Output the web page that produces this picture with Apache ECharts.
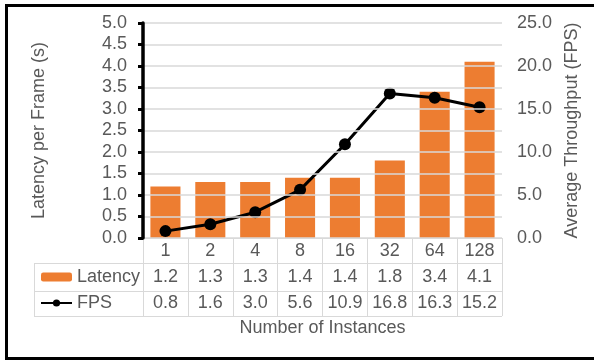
<!DOCTYPE html>
<html>
<head>
<meta charset="utf-8">
<script src="https://cdn.jsdelivr.net/npm/echarts@6/dist/echarts.min.js"></script>
<style>
  html, body { margin: 0; padding: 0; background: #fff; }
  #chart { width: 594px; height: 360px; }
</style>
</head>
<body>
<div id="chart"></div>
<script>
// Instance counts and the two measured series
const instances = ['1', '2', '4', '8', '16', '32', '64', '128'];
const latency = [1.2, 1.3, 1.3, 1.4, 1.4, 1.8, 3.4, 4.1];
const fps = [0.8, 1.6, 3.0, 5.6, 10.9, 16.8, 16.3, 15.2];

const FONT = "'Liberation Sans', Arial, sans-serif";
const TEXT = '#595959';
const RULE = '#d9d9d9';

// plot box
const G = { left: 143, right: 502, top: 23, bottom: 238 };
// data-table rows below the plot
const rowH = [25, 28, 25];
const rowY = [G.bottom + rowH[0], G.bottom + rowH[0] + rowH[1], G.bottom + rowH[0] + rowH[1] + rowH[2]];
const tableLeft = 34;

const fmt = v => Number(v).toFixed(1);

const chart = echarts.init(document.getElementById('chart'), null, { renderer: 'canvas' });

chart.setOption({
  animation: false,
  backgroundColor: '#fff',
  textStyle: { fontFamily: FONT },
  grid: { left: G.left, right: 594 - G.right, top: G.top, bottom: 360 - G.bottom },
  legend: {
    data: ['Latency', 'FPS'],
    orient: 'vertical',
    left: 40,
    top: 268,
    padding: 0,
    itemGap: 8,
    itemWidth: 31,
    itemHeight: 9,
    itemTextGap: 5,
    textStyle: { fontFamily: FONT, fontSize: 18, color: TEXT, lineHeight: 18 }
  },
  xAxis: [
    {
      type: 'category',
      data: instances,
      position: 'bottom',
      axisLine: { lineStyle: { color: RULE, width: 1 } },
      axisTick: { show: true, length: rowY[2] - G.bottom, lineStyle: { color: RULE, width: 1 } },
      axisLabel: { margin: 4, fontSize: 18, color: TEXT, fontFamily: FONT, interval: 0 }
    },
    {
      type: 'category',
      data: latency.map(fmt),
      position: 'bottom',
      axisLine: { show: false },
      axisTick: { show: false },
      axisLabel: { margin: 30, fontSize: 18, color: TEXT, fontFamily: FONT, interval: 0 }
    },
    {
      type: 'category',
      data: fps.map(fmt),
      position: 'bottom',
      axisLine: { show: false },
      axisTick: { show: false },
      axisLabel: { margin: 56, fontSize: 18, color: TEXT, fontFamily: FONT, interval: 0 },
      name: 'Number of Instances',
      nameLocation: 'middle',
      nameGap: 81,
      nameTextStyle: { fontSize: 18, color: TEXT, fontFamily: FONT }
    }
  ],
  yAxis: [
    {
      type: 'value',
      min: 0,
      max: 5,
      interval: 0.5,
      z: 10,
      name: 'Latency per Frame (s)',
      nameLocation: 'middle',
      nameGap: 95,
      nameTextStyle: { fontSize: 18, color: TEXT, fontFamily: FONT },
      axisLine: { show: true, onZero: false, lineStyle: { color: '#000', width: 3.5 } },
      axisTick: { show: true, length: 5, lineStyle: { color: '#000', width: 3 } },
      axisLabel: { formatter: fmt, fontSize: 18, color: TEXT, fontFamily: FONT, margin: 16 },
      splitLine: { show: true, lineStyle: { color: RULE, width: 1.5 } }
    },
    {
      type: 'value',
      min: 0,
      max: 25,
      interval: 5,
      position: 'right',
      name: 'Average Throughput (FPS)',
      nameLocation: 'middle',
      nameGap: 58,
      nameTextStyle: { fontSize: 18, color: TEXT, fontFamily: FONT },
      axisLine: { show: false },
      axisTick: { show: false },
      axisLabel: { formatter: fmt, fontSize: 18, color: TEXT, fontFamily: FONT, margin: 15 },
      splitLine: { show: false }
    }
  ],
  series: [
    {
      name: 'Latency',
      type: 'bar',
      data: latency,
      xAxisIndex: 0,
      yAxisIndex: 0,
      barCategoryGap: '33%',
      itemStyle: { color: '#ED7D31' }
    },
    {
      name: 'FPS',
      type: 'line',
      data: fps,
      xAxisIndex: 0,
      yAxisIndex: 1,
      symbol: 'circle',
      symbolSize: 12,
      lineStyle: { color: '#000', width: 3 },
      itemStyle: { color: '#000' },
      z: 5
    }
  ],
  graphic: [
    // table rules
    ...rowY.map(y => ({
      type: 'line',
      shape: { x1: tableLeft, y1: y + 0.5, x2: G.right, y2: y + 0.5 },
      style: { stroke: RULE, lineWidth: 1 },
      silent: true
    })),
    {
      type: 'line',
      shape: { x1: tableLeft + 0.5, y1: rowY[0], x2: tableLeft + 0.5, y2: rowY[2] },
      style: { stroke: RULE, lineWidth: 1 },
      silent: true
    },
    // outer frame
    {
      type: 'rect',
      shape: { x: 6.5, y: 5.5, width: 600, height: 353 },
      style: { fill: null, stroke: '#000', lineWidth: 3 },
      silent: true,
      z: 100
    }
  ]
});
</script>
</body>
</html>
